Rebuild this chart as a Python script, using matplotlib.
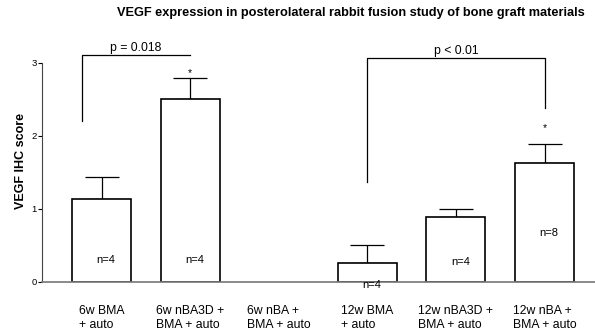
import matplotlib
matplotlib.use("Agg")
import matplotlib.pyplot as plt

plt.rcParams['font.family'] = ['Liberation Sans', 'DejaVu Sans']

categories = ["6w BMA\n+ auto", "6w nBA3D +\nBMA + auto", "6w nBA +\nBMA + auto",
              "12w BMA\n+ auto", "12w nBA3D +\nBMA + auto", "12w nBA +\nBMA + auto"]
means = [1.13, 2.50, None, 0.25, 0.88, 1.63]
errors = [0.31, 0.29, None, 0.25, 0.12, 0.26]
n_labels = ["n=4", "n=4", None, "n=4", "n=4", "n=8"]
n_label_y = [0.30, 0.30, None, -0.05, 0.27, 0.67]
star_y = [None, 2.86, None, None, None, 2.11]

fig = plt.figure(figsize=(5.95, 3.32), dpi=100)
ax = fig.add_axes([42/595, 50.3/332, 1 - 42/595, 0.726])

for i, (m, e) in enumerate(zip(means, errors)):
    if m is None:
        continue
    ax.bar(i, m, width=0.666, color='white', edgecolor='black', linewidth=1.2, zorder=2)
    ax.errorbar(i, m, yerr=[[0], [e]], fmt='none', ecolor='black', elinewidth=0.9,
                capsize=12, capthick=0.9, zorder=1)
for i, (t, y) in enumerate(zip(n_labels, n_label_y)):
    if t:
        ax.text(i + 0.05, y, t, ha='center', va='center', fontsize=8, zorder=3)
for i, y in enumerate(star_y):
    if y is not None:
        ax.text(i, y, "*", ha='center', va='center', fontsize=7.5)

# significance brackets
ax.plot([-0.22, -0.22, 1.0], [2.2, 3.10, 3.10], color='black', lw=0.9, clip_on=False)
ax.text(0.39, 3.12, "p = 0.018", ha='center', va='bottom', fontsize=8.8)
ax.plot([3.0, 3.0, 5.0, 5.0], [1.36, 3.06, 3.06, 2.38], color='black', lw=0.9, clip_on=False)
ax.text(4.0, 3.08, "p < 0.01", ha='center', va='bottom', fontsize=8.8)

ax.set_xlim(-0.672, 5.57)
ax.set_ylim(0, 3.3)
ax.set_yticks([0, 1, 2, 3])
ax.tick_params(axis='y', labelsize=6.8, length=3, width=0.8, pad=1)
ax.spines['left'].set_bounds(0, 3)
ax.spines['top'].set_visible(False)
ax.spines['right'].set_visible(False)
ax.spines['left'].set_color('#444444')
ax.spines['bottom'].set_color('#777777')
ax.spines['bottom'].set_linewidth(1.2)
ax.set_xticks(range(len(categories)))
ax.set_xticklabels(categories, fontsize=8.8, multialignment='left')
ax.tick_params(axis='x', length=0, pad=17)
ax.set_ylabel("VEGF IHC score", fontsize=9, fontweight='bold', labelpad=3)

fig.text(0.59, 0.96, "VEGF expression in posterolateral rabbit fusion study of bone graft materials",
         ha='center', va='center', fontsize=9.2, fontweight='bold')

fig.savefig("out.png", dpi=100)
